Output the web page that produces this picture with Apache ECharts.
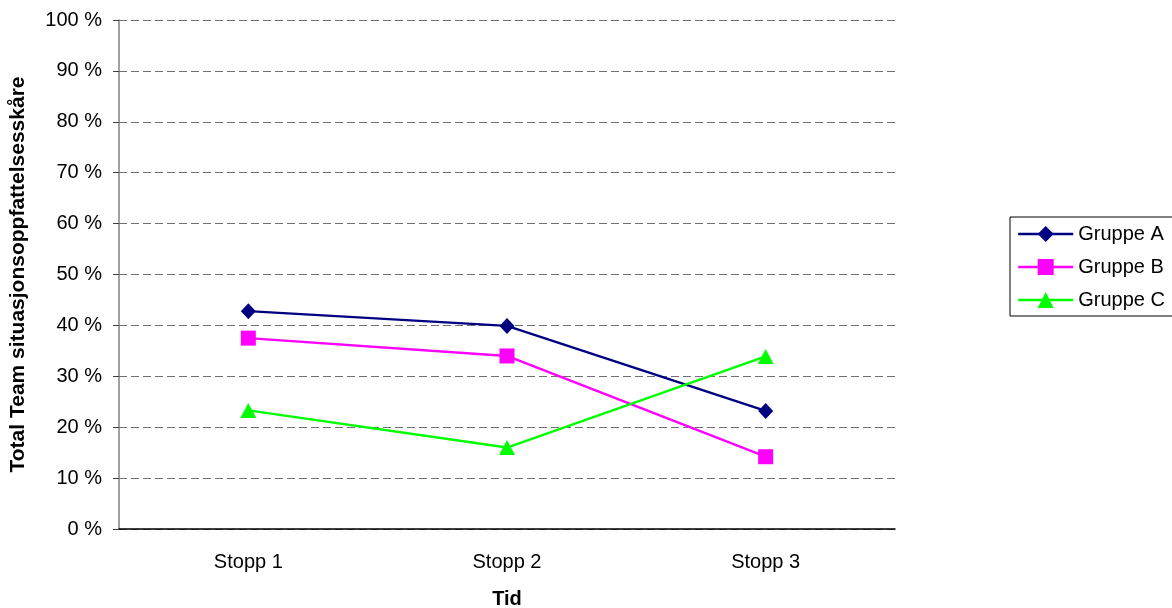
<!DOCTYPE html>
<html>
<head>
<meta charset="utf-8">
<title>Total Team situasjonsoppfattelsesskåre</title>
<script src="https://cdn.jsdelivr.net/npm/echarts@6/dist/echarts.min.js"></script>
<style>
  html, body { margin: 0; padding: 0; background: #fff; }
  #chart { width: 1172px; height: 608px; }
</style>
</head>
<body>
<div id="chart"></div>
<script>
// Måletidspunkter og gruppeverdier (prosent)
const categories = ['Stopp 1', 'Stopp 2', 'Stopp 3'];
const gruppeA = [42.8, 39.9, 23.2];
const gruppeB = [37.5, 34.0, 14.2];
const gruppeC = [23.3, 16.0, 33.9];
const seriesNames = ['Gruppe A', 'Gruppe B', 'Gruppe C'];

const FONT = 'Liberation Sans, Arial, sans-serif';
const chart = echarts.init(document.getElementById('chart'), null, { renderer: 'canvas' });

function lineSeries(name, data, color, symbol, size) {
  return {
    name: name,
    type: 'line',
    data: data,
    symbol: symbol,
    symbolSize: size,
    showAllSymbol: true,
    lineStyle: { color: color, width: 2.4 },
    itemStyle: { color: color, borderWidth: 0 },
    emphasis: { disabled: true },
    animation: false
  };
}

chart.setOption({
  backgroundColor: '#ffffff',
  animation: false,
  grid: { left: 119, right: 277, top: 20, bottom: 79, containLabel: false, outerBoundsMode: 'none' },
  legend: {
    orient: 'vertical',
    left: 1010,
    top: 217,
    data: seriesNames,
    itemWidth: 55,
    itemHeight: 20,
    itemGap: 13,
    padding: [7, 8, 6, 7],
    borderColor: '#000000',
    borderWidth: 1,
    lineStyle: { width: 2.4 },
    textStyle: { fontFamily: FONT, fontSize: 20, color: '#000', padding: [0, 0, 0, 0] }
  },
  xAxis: {
    type: 'category',
    data: categories,
    boundaryGap: true,
    name: 'Tid',
    nameLocation: 'middle',
    nameGap: 60,
    nameTextStyle: { fontFamily: FONT, fontSize: 20, fontWeight: 'bold', color: '#000' },
    axisLine: { lineStyle: { color: '#000000', width: 1.5 } },
    axisTick: { show: false },
    axisLabel: { fontFamily: FONT, fontSize: 20, color: '#000', margin: 23 },
    splitLine: { show: false }
  },
  yAxis: {
    type: 'value',
    min: 0,
    max: 100,
    interval: 10,
    name: 'Total Team situasjonsoppfattelsesskåre',
    nameLocation: 'middle',
    nameGap: 90,
    nameTextStyle: { fontFamily: FONT, fontSize: 21, fontWeight: 'bold', color: '#000' },
    axisLine: { show: true, lineStyle: { color: '#808080', width: 1.5 } },
    axisTick: { show: true, inside: false, length: 6, lineStyle: { color: '#404040', width: 1 } },
    axisLabel: { fontFamily: FONT, fontSize: 20, color: '#000', margin: 17, formatter: '{value} %' },
    splitLine: { show: true, lineStyle: { color: '#707070', width: 1, type: [8, 4] } }
  },
  series: [
    lineSeries(seriesNames[0], gruppeA, '#000080', 'diamond', [15, 16]),
    lineSeries(seriesNames[1], gruppeB, '#FF00FF', 'rect', [15, 15]),
    lineSeries(seriesNames[2], gruppeC, '#00FF00', 'triangle', [16, 15])
  ]
});
</script>
</body>
</html>
